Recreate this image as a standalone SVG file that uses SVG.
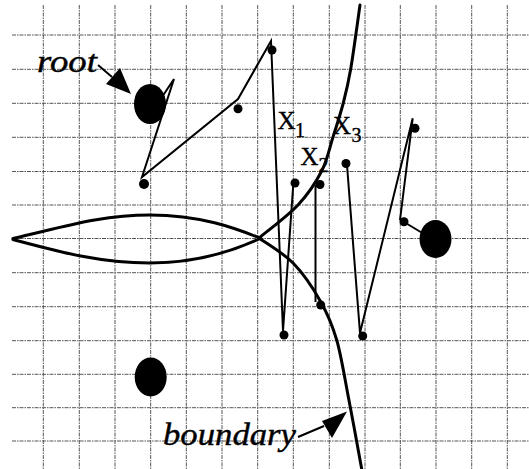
<svg xmlns="http://www.w3.org/2000/svg" width="529" height="469" viewBox="0 0 529 469">
<style>
.grid line{stroke:#555;stroke-width:1;stroke-dasharray:4 1 1.5 1}
.bnd{fill:none;stroke:#000;stroke-width:3;stroke-linecap:round;stroke-linejoin:round}
.tree{fill:none;stroke:#000;stroke-width:2;stroke-linejoin:miter}
.lbl{font-family:"Liberation Serif","Times New Roman",serif;fill:#000;stroke:#000;stroke-width:0.4}
.it{font-style:italic;font-size:31px}
.xl{font-size:25px}
.sub{font-size:20px}
</style>
<rect width="529" height="469" fill="#fff"/>
<g class="grid">
<line x1="43.3" y1="5" x2="43.3" y2="469"/>
<line x1="79.3" y1="5" x2="79.3" y2="469"/>
<line x1="115" y1="5" x2="115" y2="469"/>
<line x1="150.7" y1="5" x2="150.7" y2="469"/>
<line x1="186.3" y1="5" x2="186.3" y2="469"/>
<line x1="222" y1="5" x2="222" y2="469"/>
<line x1="257.7" y1="5" x2="257.7" y2="469"/>
<line x1="293.3" y1="5" x2="293.3" y2="469"/>
<line x1="329.3" y1="5" x2="329.3" y2="469"/>
<line x1="365" y1="5" x2="365" y2="469"/>
<line x1="400.3" y1="5" x2="400.3" y2="469"/>
<line x1="436" y1="5" x2="436" y2="469"/>
<line x1="471.7" y1="5" x2="471.7" y2="469"/>
<line x1="507.3" y1="5" x2="507.3" y2="469"/>
<line x1="12" y1="35" x2="529" y2="35"/>
<line x1="12" y1="69.3" x2="529" y2="69.3"/>
<line x1="12" y1="103.3" x2="529" y2="103.3"/>
<line x1="12" y1="137.3" x2="529" y2="137.3"/>
<line x1="12" y1="171.5" x2="529" y2="171.5"/>
<line x1="12" y1="205" x2="529" y2="205"/>
<line x1="12" y1="238.5" x2="529" y2="238.5"/>
<line x1="12" y1="272.7" x2="529" y2="272.7"/>
<line x1="12" y1="306.7" x2="529" y2="306.7"/>
<line x1="12" y1="340.7" x2="529" y2="340.7"/>
<line x1="12" y1="374.3" x2="529" y2="374.3"/>
<line x1="12" y1="407.7" x2="529" y2="407.7"/>
<line x1="12" y1="441" x2="529" y2="441"/>
</g>
<g id="boundary">
<path class="bnd" d="M360 5 C358.45 15.7 353.5 52.7 350.7 69 C347.9 85.3 346.25 91.7 343.3 103 C340.35 114.3 336.6 125.7 333 137 C329.4 148.3 327.5 159.7 321.7 171 C315.9 182.3 308.45 193.8 298 205 C287.55 216.2 265.5 232.5 259 238"/>
<path class="bnd" d="M259 238 C264.7 242.2 283 252.7 293.3 263.3 C303.6 273.9 313.5 288.9 320.7 301.7 C327.9 314.5 332.1 324.2 336.7 340 C341.3 355.8 344.1 375.2 348.3 396.7 C352.5 418.2 359.5 456.9 361.7 469"/>
<path class="bnd" d="M13 238.5 C60 228 100 215 150 215 C200 215 235 228 261 238.5"/>
<path class="bnd" d="M13 239.5 C60 252 100 263 150 263 C200 263 235 250 259 239"/>
</g>
<g id="connectors">
<polyline class="tree" points="160,100 174,79 142,177 238,99 271,41 283,331 293.5,181"/>
<line class="tree" x1="315.5" y1="185" x2="315.5" y2="302"/>
<polyline class="tree" points="347,165 360,333 412.7,118.3 400,220"/>
<line class="tree" x1="404" y1="222" x2="424" y2="234"/>
<line class="tree" x1="98" y1="65" x2="112" y2="77"/>
<polygon points="120,68 106,84 131,94" fill="#000"/>
<line class="tree" x1="298" y1="437" x2="324" y2="426"/>
<polygon points="347,411.5 322,421 332,438" fill="#000"/>
</g>
<g id="root"><ellipse cx="150" cy="104" rx="16" ry="20" fill="#000"/></g>
<g id="node-right"><ellipse cx="435.5" cy="239" rx="16" ry="19" fill="#000"/></g>
<g id="node-bottom"><ellipse cx="150.7" cy="377" rx="16" ry="19.5" fill="#000"/></g>
<g id="dots" fill="#000">
<circle cx="272" cy="50" r="4.5"/>
<circle cx="238" cy="108.7" r="4.5"/>
<circle cx="144" cy="184" r="5"/>
<circle cx="295" cy="183" r="4.5"/>
<circle cx="320" cy="184.5" r="4.5"/>
<circle cx="346" cy="163.5" r="4.5"/>
<circle cx="415" cy="128.3" r="4.5"/>
<circle cx="404" cy="221.7" r="4.5"/>
<circle cx="320.7" cy="305" r="4.5"/>
<circle cx="284" cy="335" r="4.5"/>
<circle cx="362.7" cy="336" r="4.5"/>
</g>
<g id="labels">
<text class="lbl it" x="37" y="72" textLength="60" lengthAdjust="spacingAndGlyphs">root</text>
<text class="lbl it" x="163" y="445" textLength="133" lengthAdjust="spacingAndGlyphs">boundary</text>
<text class="lbl xl" x="277.5" y="128.5">X</text><text class="lbl sub" x="295" y="137">1</text>
<text class="lbl xl" x="300.5" y="165">X</text><text class="lbl sub" x="318.5" y="171.5">2</text>
<text class="lbl xl" x="333" y="134">X</text><text class="lbl sub" x="351.5" y="141.5">3</text>
</g>
</svg>
